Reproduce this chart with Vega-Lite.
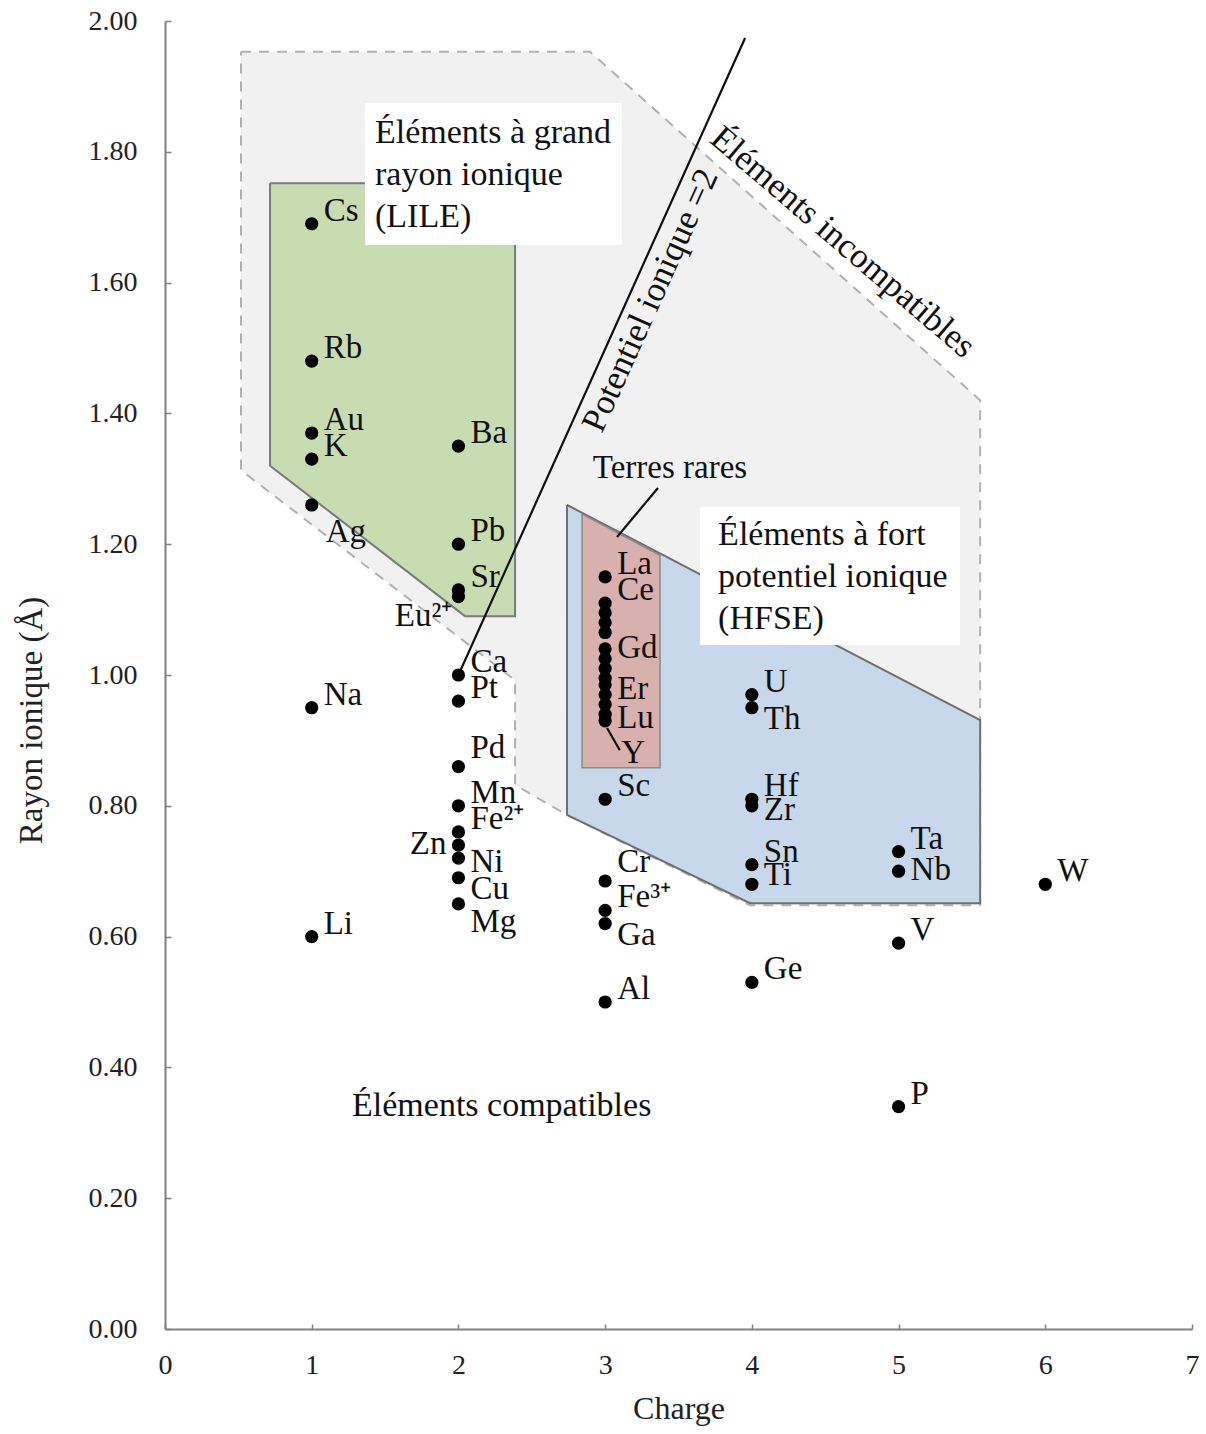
{
  "$schema": "https://vega.github.io/schema/vega-lite/v6.json",
  "width": 1027,
  "height": 1308,
  "autosize": {"type": "none"},
  "padding": {"left": 165, "top": 21, "right": 14, "bottom": 105},
  "background": "white",
  "config": {"view": {"stroke": null}, "font": "Liberation Serif"},
  "datasets": {
    "pts": [
      {"el": "Cs", "charge": 1, "radius": 1.69},
      {"el": "Rb", "charge": 1, "radius": 1.48},
      {"el": "Au", "charge": 1, "radius": 1.37},
      {"el": "K", "charge": 1, "radius": 1.33},
      {"el": "Ag", "charge": 1, "radius": 1.26},
      {"el": "Na", "charge": 1, "radius": 0.95},
      {"el": "Li", "charge": 1, "radius": 0.6},
      {"el": "Ba", "charge": 2, "radius": 1.35},
      {"el": "Pb", "charge": 2, "radius": 1.2},
      {"el": "Sr", "charge": 2, "radius": 1.13},
      {"el": "Eu²⁺", "charge": 2, "radius": 1.12},
      {"el": "Ca", "charge": 2, "radius": 1.0},
      {"el": "Pt", "charge": 2, "radius": 0.96},
      {"el": "Pd", "charge": 2, "radius": 0.86},
      {"el": "Mn", "charge": 2, "radius": 0.8},
      {"el": "Fe²⁺", "charge": 2, "radius": 0.76},
      {"el": "Zn", "charge": 2, "radius": 0.74},
      {"el": "Ni", "charge": 2, "radius": 0.72},
      {"el": "Cu", "charge": 2, "radius": 0.69},
      {"el": "Mg", "charge": 2, "radius": 0.65},
      {"el": "La", "charge": 3, "radius": 1.15},
      {"el": "Ce", "charge": 3, "radius": 1.11},
      {"el": "Pr", "charge": 3, "radius": 1.095},
      {"el": "Nd", "charge": 3, "radius": 1.08},
      {"el": "Sm", "charge": 3, "radius": 1.065},
      {"el": "Gd", "charge": 3, "radius": 1.04},
      {"el": "Tb", "charge": 3, "radius": 1.025},
      {"el": "Dy", "charge": 3, "radius": 1.01},
      {"el": "Ho", "charge": 3, "radius": 0.995},
      {"el": "Er", "charge": 3, "radius": 0.985},
      {"el": "Tm", "charge": 3, "radius": 0.97},
      {"el": "Yb", "charge": 3, "radius": 0.955},
      {"el": "Lu", "charge": 3, "radius": 0.94},
      {"el": "Y", "charge": 3, "radius": 0.93},
      {"el": "Sc", "charge": 3, "radius": 0.81},
      {"el": "Cr", "charge": 3, "radius": 0.685},
      {"el": "Fe³⁺", "charge": 3, "radius": 0.64},
      {"el": "Ga", "charge": 3, "radius": 0.62},
      {"el": "Al", "charge": 3, "radius": 0.5},
      {"el": "U", "charge": 4, "radius": 0.97},
      {"el": "Th", "charge": 4, "radius": 0.95},
      {"el": "Hf", "charge": 4, "radius": 0.81},
      {"el": "Zr", "charge": 4, "radius": 0.8},
      {"el": "Sn", "charge": 4, "radius": 0.71},
      {"el": "Ti", "charge": 4, "radius": 0.68},
      {"el": "Ge", "charge": 4, "radius": 0.53},
      {"el": "Ta", "charge": 5, "radius": 0.73},
      {"el": "Nb", "charge": 5, "radius": 0.7},
      {"el": "V", "charge": 5, "radius": 0.59},
      {"el": "P", "charge": 5, "radius": 0.34},
      {"el": "W", "charge": 6, "radius": 0.68}
    ],
    "poly": [
      {"region": "gray", "i": 0, "charge": 0.518, "radius": 1.953},
      {"region": "gray", "i": 1, "charge": 2.897, "radius": 1.953},
      {"region": "gray", "i": 2, "charge": 5.556, "radius": 1.42},
      {"region": "gray", "i": 3, "charge": 5.556, "radius": 0.648},
      {"region": "gray", "i": 4, "charge": 3.988, "radius": 0.648},
      {"region": "gray", "i": 5, "charge": 2.74, "radius": 0.786},
      {"region": "gray", "i": 6, "charge": 2.386, "radius": 0.832},
      {"region": "gray", "i": 7, "charge": 2.386, "radius": 0.992},
      {"region": "gray", "i": 8, "charge": 0.518, "radius": 1.313},
      {"region": "gray", "i": 9, "charge": 0.518, "radius": 1.953},
      {"region": "green", "i": 0, "charge": 0.716, "radius": 1.752},
      {"region": "green", "i": 1, "charge": 2.386, "radius": 1.752},
      {"region": "green", "i": 2, "charge": 2.386, "radius": 1.09},
      {"region": "green", "i": 3, "charge": 2.045, "radius": 1.09},
      {"region": "green", "i": 4, "charge": 0.716, "radius": 1.32},
      {"region": "green", "i": 5, "charge": 0.716, "radius": 1.752},
      {"region": "blue", "i": 0, "charge": 2.74, "radius": 1.26},
      {"region": "blue", "i": 1, "charge": 5.556, "radius": 0.931},
      {"region": "blue", "i": 2, "charge": 5.556, "radius": 0.651},
      {"region": "blue", "i": 3, "charge": 3.988, "radius": 0.651},
      {"region": "blue", "i": 4, "charge": 2.74, "radius": 0.786},
      {"region": "blue", "i": 5, "charge": 2.74, "radius": 1.26},
      {"region": "pink", "i": 0, "charge": 2.843, "radius": 1.246},
      {"region": "pink", "i": 1, "charge": 3.374, "radius": 1.183},
      {"region": "pink", "i": 2, "charge": 3.374, "radius": 0.858},
      {"region": "pink", "i": 3, "charge": 2.843, "radius": 0.858},
      {"region": "pink", "i": 4, "charge": 2.843, "radius": 1.246}
    ]
  },
  "encoding": {
    "x": {
      "field": "charge", "type": "quantitative", "title": "Charge",
      "scale": {"domain": [0, 7], "nice": false, "zero": false},
      "axis": {
        "values": [0, 1, 2, 3, 4, 5, 6, 7], "format": "d", "grid": false,
        "labelFont": "Liberation Serif", "labelFontSize": 28, "labelColor": "#222",
        "labelFlush": false, "labelOverlap": false,
        "tickSize": -5, "labelPadding": 27, "tickColor": "#808080", "tickWidth": 1.5,
        "domainColor": "#808080", "domainWidth": 2,
        "titleFont": "Liberation Serif", "titleFontSize": 32, "titleFontWeight": "normal",
        "titleColor": "#222", "titlePadding": 14
      }
    },
    "y": {
      "field": "radius", "type": "quantitative", "title": "Rayon ionique (Å)",
      "scale": {"domain": [0, 2], "nice": false, "zero": false},
      "axis": {
        "values": [0, 0.2, 0.4, 0.6, 0.8, 1.0, 1.2, 1.4, 1.6, 1.8, 2.0], "format": ".2f", "grid": false,
        "labelFont": "Liberation Serif", "labelFontSize": 28, "labelColor": "#222",
        "labelFlush": false, "labelOverlap": false,
        "tickSize": -6, "labelPadding": 34, "tickColor": "#808080", "tickWidth": 1.5,
        "domainColor": "#808080", "domainWidth": 2,
        "titleFont": "Liberation Serif", "titleFontSize": 33, "titleFontWeight": "normal",
        "titleColor": "#222", "titlePadding": 40, "titleY": 699
      }
    }
  },
  "layer": [
    {
      "data": {"name": "poly"},
      "transform": [{"filter": "datum.region === 'gray'"}],
      "mark": {"type": "line", "filled": true, "fill": "#f1f1f1", "stroke": "#b0b0b0", "strokeWidth": 2, "strokeDash": [10, 8]},
      "encoding": {"order": {"field": "i", "type": "quantitative"}}
    },
    {
      "data": {"name": "poly"},
      "transform": [{"filter": "datum.region === 'green'"}],
      "mark": {"type": "line", "filled": true, "fill": "#c8dcb2", "stroke": "#7a7a7a", "strokeWidth": 2},
      "encoding": {"order": {"field": "i", "type": "quantitative"}}
    },
    {
      "data": {"name": "poly"},
      "transform": [{"filter": "datum.region === 'blue'"}],
      "mark": {"type": "line", "filled": true, "fill": "#c6d8ea", "stroke": "#6f6f6f", "strokeWidth": 2},
      "encoding": {"order": {"field": "i", "type": "quantitative"}}
    },
    {
      "data": {"name": "poly"},
      "transform": [{"filter": "datum.region === 'pink'"}],
      "mark": {"type": "line", "filled": true, "fill": "#d8b0ae", "stroke": "#8a8a8a", "strokeWidth": 1.5},
      "encoding": {"order": {"field": "i", "type": "quantitative"}}
    },
    {
      "data": {"values": [
        {"charge": 1.363, "charge2": 3.115, "radius": 1.8746, "radius2": 1.6575},
        {"charge": 3.647, "charge2": 5.419, "radius": 1.257, "radius2": 1.046}
      ]},
      "mark": {"type": "rect", "fill": "white", "stroke": null},
      "encoding": {"x2": {"field": "charge2"}, "y2": {"field": "radius2"}}
    },
    {
      "data": {"values": [
        {"charge": 3.36, "radius": 1.286, "charge2": 3.081, "radius2": 1.211},
        {"charge": 3.013, "radius": 0.919, "charge2": 3.1, "radius2": 0.885},
        {"charge": 2.0, "radius": 1.0, "charge2": 3.954, "radius2": 1.974}
      ]},
      "mark": {"type": "rule", "color": "#111", "strokeWidth": 2.2},
      "encoding": {"x2": {"field": "charge2"}, "y2": {"field": "radius2"}}
    },
    {
      "data": {"name": "pts"},
      "mark": {"type": "point", "filled": true, "shape": "circle", "size": 175, "color": "#000", "opacity": 1}
    },
    {
      "data": {"name": "pts"},
      "transform": [{"filter": {"field": "el", "oneOf": ["Cs", "Rb", "Au", "K", "Ba", "Pb", "Sr", "Ca", "Pt", "Mn", "Fe²⁺", "Na", "Li", "La", "Ce", "Sc", "Fe³⁺", "Al", "U", "Hf", "Sn", "Ge", "Ta", "V", "P", "W"]}}],
      "mark": {"type": "text", "align": "left", "baseline": "alphabetic", "dx": 12, "dy": -3, "fontSize": 33, "font": "Liberation Serif", "color": "#111"},
      "encoding": {"text": {"field": "el"}}
    },
    {
      "data": {"name": "pts"},
      "transform": [{"filter": {"field": "el", "oneOf": ["Pd", "Cr"]}}],
      "mark": {"type": "text", "align": "left", "baseline": "alphabetic", "dx": 12, "dy": -9, "fontSize": 33, "font": "Liberation Serif", "color": "#111"},
      "encoding": {"text": {"field": "el"}}
    },
    {
      "data": {"name": "pts"},
      "transform": [{"filter": {"field": "el", "oneOf": ["Ti"]}}],
      "mark": {"type": "text", "align": "left", "baseline": "alphabetic", "dx": 12, "dy": 1, "fontSize": 33, "font": "Liberation Serif", "color": "#111"},
      "encoding": {"text": {"field": "el"}}
    },
    {
      "data": {"name": "pts"},
      "transform": [{"filter": {"field": "el", "oneOf": ["Gd", "Nb"]}}],
      "mark": {"type": "text", "align": "left", "baseline": "alphabetic", "dx": 12, "dy": 9, "fontSize": 33, "font": "Liberation Serif", "color": "#111"},
      "encoding": {"text": {"field": "el"}}
    },
    {
      "data": {"name": "pts"},
      "transform": [{"filter": {"field": "el", "oneOf": ["Ni", "Zr", "Er", "Lu"]}}],
      "mark": {"type": "text", "align": "left", "baseline": "alphabetic", "dx": 12, "dy": 14, "fontSize": 33, "font": "Liberation Serif", "color": "#111"},
      "encoding": {"text": {"field": "el"}}
    },
    {
      "data": {"name": "pts"},
      "transform": [{"filter": {"field": "el", "oneOf": ["Cu", "Ga", "Th"]}}],
      "mark": {"type": "text", "align": "left", "baseline": "alphabetic", "dx": 12, "dy": 21, "fontSize": 33, "font": "Liberation Serif", "color": "#111"},
      "encoding": {"text": {"field": "el"}}
    },
    {
      "data": {"name": "pts"},
      "transform": [{"filter": {"field": "el", "oneOf": ["Mg"]}}],
      "mark": {"type": "text", "align": "left", "baseline": "alphabetic", "dx": 12, "dy": 28, "fontSize": 33, "font": "Liberation Serif", "color": "#111"},
      "encoding": {"text": {"field": "el"}}
    },
    {
      "data": {"name": "pts"},
      "transform": [{"filter": {"field": "el", "oneOf": ["Ag"]}}],
      "mark": {"type": "text", "align": "left", "baseline": "alphabetic", "dx": 14, "dy": 37, "fontSize": 33, "font": "Liberation Serif", "color": "#111"},
      "encoding": {"text": {"field": "el"}}
    },
    {
      "data": {"name": "pts"},
      "transform": [{"filter": {"field": "el", "oneOf": ["Zn"]}}],
      "mark": {"type": "text", "align": "right", "baseline": "alphabetic", "dx": -12, "dy": 9, "fontSize": 33, "font": "Liberation Serif", "color": "#111"},
      "encoding": {"text": {"field": "el"}}
    },
    {
      "data": {"name": "pts"},
      "transform": [{"filter": {"field": "el", "oneOf": ["Eu²⁺"]}}],
      "mark": {"type": "text", "align": "right", "baseline": "alphabetic", "dx": -6, "dy": 29, "fontSize": 33, "font": "Liberation Serif", "color": "#111"},
      "encoding": {"text": {"field": "el"}}
    },
    {
      "data": {"name": "pts"},
      "transform": [{"filter": {"field": "el", "oneOf": ["Y"]}}],
      "mark": {"type": "text", "align": "left", "baseline": "alphabetic", "dx": 16, "dy": 42, "fontSize": 33, "font": "Liberation Serif", "color": "#111"},
      "encoding": {"text": {"field": "el"}}
    },
    {
      "data": {"values": [{"charge": 1.4315, "radius": 1.8135}]},
      "mark": {"type": "text", "align": "left", "baseline": "alphabetic", "fontSize": 34, "lineHeight": 42, "font": "Liberation Serif", "color": "#111", "text": ["Éléments à grand", "rayon ionique", "(LILE)"]}
    },
    {
      "data": {"values": [{"charge": 3.77, "radius": 1.1988}]},
      "mark": {"type": "text", "align": "left", "baseline": "alphabetic", "fontSize": 34, "lineHeight": 42, "font": "Liberation Serif", "color": "#111", "text": ["Éléments à fort", "potentiel ionique", "(HFSE)"]}
    },
    {
      "data": {"values": [{"charge": 1.275, "radius": 0.3257}]},
      "mark": {"type": "text", "align": "left", "baseline": "alphabetic", "fontSize": 34, "font": "Liberation Serif", "color": "#111", "text": "Éléments compatibles"}
    },
    {
      "data": {"values": [{"charge": 3.442, "radius": 1.301}]},
      "mark": {"type": "text", "align": "center", "baseline": "alphabetic", "fontSize": 33, "font": "Liberation Serif", "color": "#111", "text": "Terres rares"}
    },
    {
      "data": {"values": [{"charge": 3.306, "radius": 1.573}]},
      "mark": {"type": "text", "align": "center", "baseline": "middle", "angle": 294.2, "fontSize": 35, "font": "Liberation Serif", "color": "#111", "text": "Potentiel ionique =2"}
    },
    {
      "data": {"values": [{"charge": 4.622, "radius": 1.662}]},
      "mark": {"type": "text", "align": "center", "baseline": "middle", "angle": 40.5, "fontSize": 35, "font": "Liberation Serif", "color": "#111", "text": "Éléments incompatibles"}
    }
  ]
}
